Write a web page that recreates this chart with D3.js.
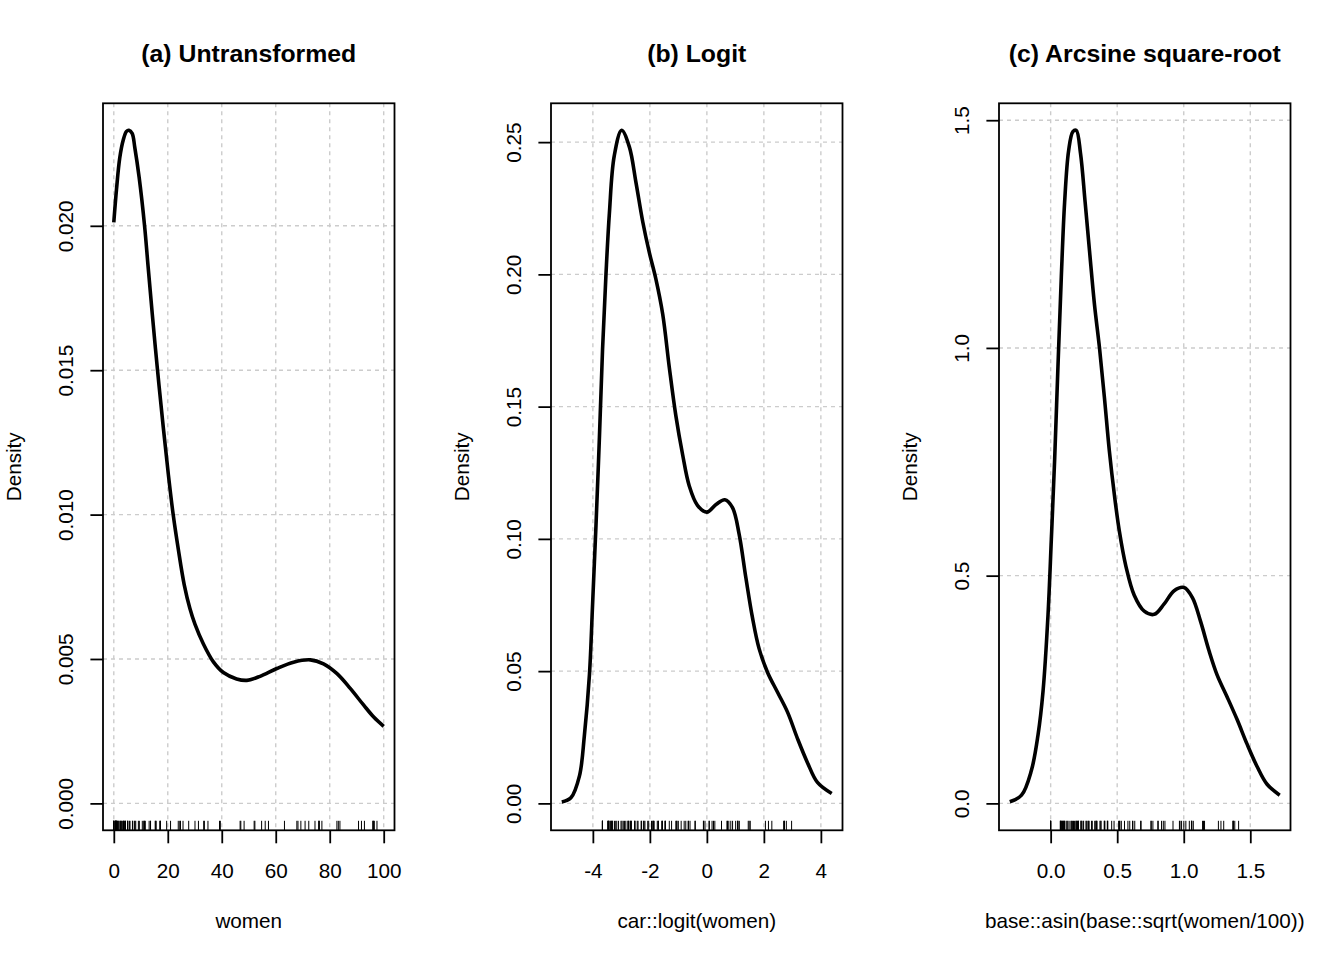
<!DOCTYPE html>
<html>
<head>
<meta charset="utf-8">
<script src="https://cdn.jsdelivr.net/npm/d3@7"></script>
<style>
body { margin: 0; background: #fff; }
svg text { font-family: "Liberation Sans", Arial, Helvetica, sans-serif; fill: #000; }
</style>
</head>
<body>
<svg width="1344" height="960"></svg>
<script>
// percent women in each occupation (rug marks)
var women = [11.16, 4.02, 15.70, 9.11, 11.68, 5.13, 25.65, 2.69, 1.03, 0.94, 1.91, 7.83,
    15.33, 57.31, 48.28, 54.77, 5.13, 77.10, 34.89, 4.14, 19.59, 83.78, 46.80, 10.56,
    4.32, 6.91, 96.12, 76.14, 82.66, 24.71, 76.04, 21.03, 11.15, 8.13, 97.51, 95.97,
    68.24, 91.76, 75.92, 11.37, 83.19, 92.86, 7.62, 52.27, 96.14, 47.06, 56.10, 39.17,
    63.23, 17.04, 3.16, 67.82, 7.00, 3.69, 13.09, 24.44, 23.88, 0.00, 1.65, 52.00,
    15.51, 6.01, 96.53, 69.31, 33.57, 30.08, 3.60, 27.75, 0.00, 33.30, 17.26, 17.26,
    72.24, 31.36, 39.48, 1.50, 4.28, 2.30, 5.17, 13.62, 5.78, 74.54, 2.92, 90.67,
    0.81, 0.78, 0.00, 1.34, 0.99, 0.65, 0.56, 0.52, 2.46, 0.61, 1.09, 0.58,
    0.00, 9.47, 3.59, 0.00, 13.58, 70.87];

// density curves
var untransX = [0, 1, 2.2, 3.5, 4.7, 5.6, 6.8, 7.8, 9.4, 11.4, 12.7, 14.2, 16.2, 18.3, 20.2,
    22.0, 23.9, 26.1, 28.2, 30.1, 33.2, 36.9, 40.6, 45.5, 49.3, 54.2, 60.4, 66.6, 72.8,
    77.7, 82.7, 87.6, 92.6, 96.3, 100];
var untransY = [0.02012, 0.02126, 0.02235, 0.02297, 0.02327, 0.02331, 0.0232, 0.0227, 0.02167,
    0.0200, 0.0186, 0.0170, 0.0150, 0.01305, 0.0114, 0.0100, 0.0088, 0.00757, 0.00675,
    0.0062, 0.00552, 0.0049, 0.00453, 0.00431, 0.00426, 0.0044, 0.00467, 0.00489, 0.00497,
    0.00483, 0.00449, 0.00398, 0.0034, 0.00299, 0.00267];

var logitX = [-5.09, -4.77, -4.47, -4.30, -4.12, -4.01, -3.89, -3.77, -3.66, -3.54, -3.42, -3.25,
    -2.99, -2.72, -2.49, -2.25, -2.02, -1.79, -1.55, -1.32, -1.09, -0.85, -0.62, -0.33, 0.0,
    0.32, 0.63, 0.90, 1.13, 1.37, 1.60, 1.83, 2.13, 2.48, 2.83, 3.18, 3.53, 3.88, 4.38];
var logitY = [0.0005, 0.0021, 0.0104, 0.0254, 0.0487, 0.0752, 0.1052, 0.1384, 0.1717, 0.200,
    0.2232, 0.2448, 0.2545, 0.2482, 0.2349, 0.2199, 0.2083, 0.1983, 0.185, 0.165, 0.1467,
    0.1318, 0.1201, 0.1127, 0.1101, 0.113, 0.1148, 0.1118, 0.1019, 0.0852, 0.0702, 0.0586,
    0.0495, 0.042, 0.0345, 0.0245, 0.0154, 0.0079, 0.0037];

var asinX = [-0.307, -0.219, -0.145, -0.095, -0.057, -0.020, 0.005, 0.030, 0.055, 0.080, 0.105,
    0.135, 0.167, 0.192, 0.224, 0.259, 0.292, 0.329, 0.367, 0.404, 0.441, 0.479, 0.516,
    0.566, 0.628, 0.703, 0.778, 0.853, 0.928, 1.002, 1.065, 1.127, 1.190, 1.252, 1.327,
    1.401, 1.476, 1.551, 1.626, 1.721];
var asinY = [0.0034, 0.018, 0.072, 0.150, 0.247, 0.413, 0.579, 0.755, 0.960, 1.155, 1.320,
    1.433, 1.475, 1.478, 1.428, 1.320, 1.213, 1.096, 1.000, 0.891, 0.774, 0.677, 0.598,
    0.520, 0.457, 0.422, 0.415, 0.438, 0.467, 0.474, 0.452, 0.399, 0.335, 0.281, 0.233,
    0.184, 0.130, 0.081, 0.042, 0.018];

var untransXTicks = [0, 20, 40, 60, 80, 100],
    untransYTicks = [0, 0.005, 0.010, 0.015, 0.020],
    logitXTicks = [-4, -2, 0, 2, 4],
    logitYTicks = [0, 0.05, 0.10, 0.15, 0.20, 0.25],
    asinXTicks = [0, 0.5, 1.0, 1.5],
    asinYTicks = [0, 0.5, 1.0, 1.5];

var titles = ["(a) Untransformed", "(b) Logit", "(c) Arcsine square-root"],
    xLabels = ["women", "car::logit(women)", "base::asin(base::sqrt(women/100))"];

// the transforms named on the x axes
function carLogit(w) {
    var p = 0.025 + 0.95 * w / 100;
    return Math.log(p / (1 - p));
}
function asinSqrt(w) {
    return Math.asin(Math.sqrt(w / 100));
}

var panels = [
    { xs: untransX, ys: untransY, rug: women.slice(), xt: untransXTicks, yt: untransYTicks,
      xf: d3.format("d"), yf: d3.format(".3f") },
    { xs: logitX, ys: logitY, rug: women.map(carLogit), xt: logitXTicks, yt: logitYTicks,
      xf: function(d) { return String(d); }, yf: d3.format(".2f") },
    { xs: asinX, ys: asinY, rug: women.map(asinSqrt), xt: asinXTicks, yt: asinYTicks,
      xf: d3.format(".1f"), yf: d3.format(".1f") }
];

var svg = d3.select("svg"),
    panelW = 448,
    margin = { top: 103.3, right: 53.5, bottom: 129.7, left: 103 },
    width = panelW - margin.left - margin.right,
    height = +svg.attr("height") - margin.top - margin.bottom;

// R style limits: data range stretched by 4%
function padRange(lo, hi) {
    var d = (hi - lo) * 0.04;
    return [lo - d, hi + d];
}

panels.forEach(function(p, i) {
    var g = svg.append("g")
        .attr("transform", "translate(" + (i * panelW + margin.left) + "," + margin.top + ")");

    var x = d3.scaleLinear().domain(padRange(d3.min(p.xs), d3.max(p.xs))).range([0, width]),
        y = d3.scaleLinear().domain(padRange(0, d3.max(p.ys))).range([height, 0]);

    // grid
    g.append("g").selectAll("line")
        .data(p.xt)
        .enter().append("line")
        .attr("x1", function(d) { return x(d); })
        .attr("x2", function(d) { return x(d); })
        .attr("y1", 0).attr("y2", height)
        .attr("stroke", "#cccccc").attr("stroke-width", 1.4).attr("stroke-dasharray", "4,4");
    g.append("g").selectAll("line")
        .data(p.yt)
        .enter().append("line")
        .attr("y1", function(d) { return y(d); })
        .attr("y2", function(d) { return y(d); })
        .attr("x1", 0).attr("x2", width)
        .attr("stroke", "#cccccc").attr("stroke-width", 1.4).attr("stroke-dasharray", "4,4");

    // density curve
    var line = d3.line()
        .curve(d3.curveCatmullRom.alpha(0.5))
        .x(function(d) { return x(d[0]); })
        .y(function(d) { return y(d[1]); });

    g.append("path")
        .datum(d3.zip(p.xs, p.ys))
        .attr("fill", "none")
        .attr("stroke", "#000")
        .attr("stroke-width", 3.6)
        .attr("stroke-linejoin", "round")
        .attr("d", line);

    // rug
    g.append("g").selectAll("line")
        .data(p.rug)
        .enter().append("line")
        .attr("x1", function(d) { return x(d); })
        .attr("x2", function(d) { return x(d); })
        .attr("y1", height).attr("y2", height - 9.5)
        .attr("stroke", "#000").attr("stroke-width", 1);

    // box
    g.append("rect")
        .attr("width", width).attr("height", height)
        .attr("fill", "none").attr("stroke", "#000").attr("stroke-width", 1.8);

    var xAxis = g.append("g")
        .attr("transform", "translate(0," + height + ")")
        .call(d3.axisBottom(x).tickValues(p.xt).tickFormat(p.xf).tickSize(13));
    xAxis.select(".domain").remove();
    xAxis.selectAll("line").attr("stroke", "#000").attr("stroke-width", 1.8);
    xAxis.selectAll("text")
        .attr("y", 47.7).attr("dy", null)
        .style("font-size", "20.7px");

    var yAxis = g.append("g")
        .call(d3.axisLeft(y).tickValues(p.yt).tickFormat(p.yf).tickSize(12.6));
    yAxis.select(".domain").remove();
    yAxis.selectAll("line").attr("stroke", "#000").attr("stroke-width", 1.8);
    yAxis.selectAll("text")
        .attr("transform", "rotate(-90)")
        .attr("x", 0).attr("y", -30).attr("dy", null)
        .attr("text-anchor", "middle")
        .style("font-size", "20.7px");

    g.append("text")
        .attr("x", width / 2).attr("y", -41.3)
        .attr("text-anchor", "middle")
        .style("font-size", "24.8px").style("font-weight", "bold")
        .text(titles[i]);

    g.append("text")
        .attr("x", width / 2).attr("y", height + 97.7)
        .attr("text-anchor", "middle")
        .style("font-size", "20.7px")
        .text(xLabels[i]);

    g.append("text")
        .attr("transform", "translate(-81.6," + (height / 2) + ") rotate(-90)")
        .attr("text-anchor", "middle")
        .style("font-size", "20.7px")
        .text("Density");
});
</script>
</body>
</html>
